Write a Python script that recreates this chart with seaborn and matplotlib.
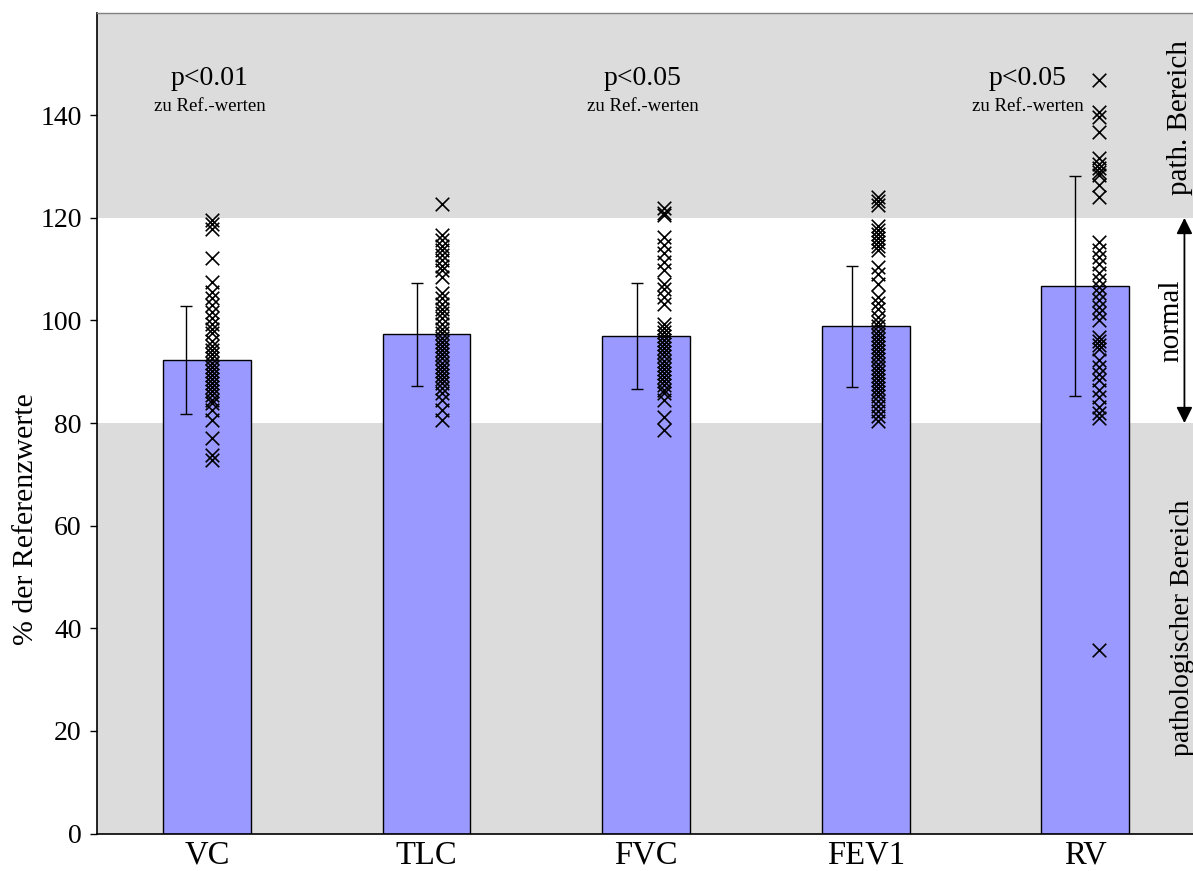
import numpy as np
import pandas as pd
import matplotlib
matplotlib.use("Agg")
import matplotlib.pyplot as plt
import seaborn as sns

# ---------------- data ----------------
categories = ["VC", "TLC", "FVC", "FEV1", "RV"]
means = [92.3, 97.3, 97.0, 98.9, 106.7]
sds = [10.5, 10.0, 10.4, 11.8, 21.4]

vc = [119.5, 118.8, 117.8, 112.1, 107.5, 105.6, 104.3, 103.0, 101.7, 100.4, 99.4, 98.4,
      97.5, 96.0, 95.0, 94.2, 93.4, 92.6, 91.8, 91.0, 90.2, 89.4, 88.6, 87.8, 87.0, 86.2,
      85.4, 84.6, 83.9, 82.5, 80.6, 77.1, 73.8, 72.8]
tlc = [122.8, 116.6, 115.6, 114.6, 113.7, 112.7, 111.7, 110.7, 109.8, 108.5, 105.3, 104.3,
       103.3, 102.3, 101.4, 100.4, 99.4, 98.4, 97.5, 96.6, 95.8, 95.0, 94.2, 93.4, 92.6,
       91.8, 91.0, 90.2, 89.4, 88.6, 87.8, 86.8, 85.8, 84.5, 82.5, 80.6]
fvc = [121.9, 121.0, 120.5, 116.3, 114.7, 113.1, 111.4, 109.8, 107.2, 106.2, 104.6, 103.3,
       99.4, 98.6, 97.8, 97.0, 96.2, 95.4, 94.6, 93.8, 93.0, 92.2, 91.4, 90.6, 89.8, 89.0,
       88.2, 87.4, 86.4, 85.8, 84.5, 81.2, 78.6]
fev1 = [124.0, 123.2, 122.6, 118.4, 117.6, 116.8, 116.0, 115.3, 114.5, 113.8, 110.4, 109.0,
        107.2, 104.6, 103.5, 102.3, 100.7, 99.8, 98.9, 98.0, 97.2, 96.4, 95.6, 94.8, 94.0,
        93.2, 92.4, 91.6, 90.8, 90.0, 89.2, 88.4, 87.6, 86.8, 86.0, 85.2, 84.4, 83.4, 82.4,
        81.4, 80.4]
rv = [146.8, 140.6, 139.6, 136.8, 131.6, 130.6, 129.8, 129.0, 128.4, 126.4, 124.1, 115.3,
      113.8, 112.3, 111.0, 109.2, 107.9, 106.6, 105.3, 104.0, 102.7, 101.4, 100.1, 96.8,
      96.0, 95.2, 94.4, 92.3, 91.0, 89.6, 88.4, 86.4, 85.1, 83.2, 82.0, 81.0, 35.8]
individual = [vc, tlc, fvc, fev1, rv]

p_labels = ["p<0.01", "p<0.05", "p<0.05"]
p_sub = "zu Ref.-werten"
yticks = [0, 20, 40, 60, 80, 100, 120, 140]

# ---------------- style ----------------
scatter_offset = [0.025, 0.07, 0.08, 0.055, 0.06]
errbar_offset = [-0.093, -0.043, -0.043, -0.062, -0.046]
p_xpos = [0.014, 1.986, 3.736]

sns.set_theme(style="white")
plt.rcParams["font.family"] = ["Liberation Serif", "DejaVu Serif"]
plt.rcParams["text.color"] = "black"
plt.rcParams["axes.labelcolor"] = "black"
plt.rcParams["xtick.color"] = "black"
plt.rcParams["ytick.color"] = "black"

fig = plt.figure(figsize=(11.93, 8.71), dpi=100)
ax = fig.add_axes([97 / 1193, (871 - 833.5) / 871, 1096 / 1193, 820.8 / 871])

gray = "#DCDCDC"
ax.axhspan(0, 80, color=gray, zorder=0, lw=0)
ax.axhspan(120, 160, color=gray, zorder=0, lw=0)

bar_df = pd.DataFrame({"cat": categories, "mean": means})
sns.barplot(data=bar_df, x="cat", y="mean", color="#9999FF", saturation=1,
            edgecolor="black", linewidth=1.0, width=0.4, errorbar=None, ax=ax, zorder=2)

pos = np.arange(len(categories))
ax.errorbar(pos + np.array(errbar_offset), means, yerr=sds, fmt="none",
            ecolor="black", elinewidth=1.0, capsize=4.5, capthick=1.0, zorder=3)

rows = []
for i, vals in enumerate(individual):
    for v in vals:
        rows.append({"x": i + scatter_offset[i], "y": v})
pts = pd.DataFrame(rows)
sns.scatterplot(data=pts, x="x", y="y", marker="x", color="black", s=95,
                linewidth=1.2, ax=ax, zorder=4)

ax.set_xlim(-0.5, 4.49)
ax.set_ylim(0, 160)
ax.set_yticks(yticks)
ax.set_yticklabels([str(t) for t in yticks])
ax.set_xticks(pos)
ax.set_xticklabels(categories)
ax.tick_params(axis="y", direction="out", length=5, width=1, labelsize=20, pad=6,
               left=True, colors="black")
ax.tick_params(axis="x", length=0, labelsize=23.5, pad=5, colors="black")
ax.set_xlabel("")
ax.set_ylabel("% der Referenzwerte", fontsize=21.5, color="black")
ax.yaxis.set_label_coords(-0.053, 0.383)

for s in ["left", "bottom"]:
    ax.spines[s].set_color("black")
    ax.spines[s].set_linewidth(1.2)
ax.spines["top"].set_color("#808080")
ax.spines["top"].set_linewidth(1.0)
ax.spines["right"].set_visible(False)

for xp, lab in zip(p_xpos, p_labels):
    ax.text(xp, 147.2, lab, ha="center", va="center", fontsize=20, zorder=5)
    ax.text(xp, 141.8, p_sub, ha="center", va="center", fontsize=13.5, zorder=5)

ax.text(4.433, 139.5, "path. Bereich", rotation=90, ha="center", va="center", fontsize=21)
ax.text(4.392, 100, "normal", rotation=90, ha="center", va="center", fontsize=21)
ax.text(4.442, 40, "pathologischer Bereich", rotation=90, ha="center", va="center", fontsize=20)
ax.annotate("", xy=(4.451, 80), xytext=(4.451, 120),
            arrowprops=dict(arrowstyle="<|-|>", color="black", lw=1.3,
                            mutation_scale=24, shrinkA=0, shrinkB=0))

fig.savefig("out.png", dpi=100)
